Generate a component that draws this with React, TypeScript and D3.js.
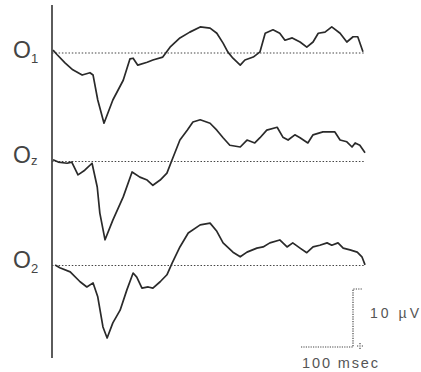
import React, { useRef, useEffect } from "react";
import * as d3 from "d3";

// channel labels
const channels = ["O1", "Oz", "O2"];
const subscripts = ["1", "z", "2"];

// time (ms) and amplitude (µV, up = positive)
const o1Time = [2, 10, 25, 40, 58, 73, 79, 88, 100, 117, 137, 150, 156, 165, 183, 194, 213, 227, 246, 265, 285, 304, 317, 329, 338, 348, 362, 371, 387, 400, 410, 425, 438, 448, 462, 477, 490, 502, 512, 525, 538, 554, 567, 579, 588, 598];
const o1Amp = [0.5, -0.3, -1.7, -2.9, -3.8, -3.4, -3.8, -8.1, -12.1, -8.1, -4.7, -1.0, -0.9, -2.1, -1.6, -1.2, -0.7, 1.0, 2.6, 3.6, 4.5, 4.3, 3.4, 1.7, 0.2, -0.9, -2.1, -1.2, -0.7, 0.2, 3.4, 4.0, 3.4, 2.2, 2.6, 1.9, 1.0, 1.9, 3.4, 3.6, 4.5, 3.4, 1.9, 2.8, 2.8, 0.2];

const ozTime = [2, 12, 29, 38, 50, 63, 77, 87, 92, 102, 117, 137, 154, 169, 183, 194, 208, 221, 231, 246, 260, 271, 285, 304, 317, 329, 342, 362, 375, 390, 400, 413, 433, 444, 454, 467, 477, 492, 502, 521, 544, 554, 567, 577, 583, 592, 602];
const ozAmp = [0.3, -0.1, -0.3, -0.1, -2.3, -1.5, -0.3, -4.4, -8.9, -13.5, -10.1, -6.1, -1.8, -2.7, -3.2, -4.1, -3.2, -2.0, 0.3, 3.7, 5.4, 6.8, 7.2, 6.6, 5.4, 4.1, 2.8, 2.5, 3.7, 3.2, 4.1, 5.4, 5.9, 4.2, 3.7, 4.6, 4.1, 3.2, 4.6, 5.1, 5.1, 3.7, 3.4, 2.5, 3.2, 2.8, 1.5];

const o2Time = [6, 15, 35, 54, 67, 79, 88, 98, 106, 117, 131, 144, 156, 163, 173, 185, 194, 208, 221, 231, 246, 262, 285, 304, 317, 329, 348, 362, 375, 394, 406, 419, 438, 452, 463, 477, 490, 502, 515, 529, 538, 550, 560, 573, 587, 596, 602];
const o2Amp = [0.1, -0.4, -1.1, -2.8, -3.7, -3.0, -5.4, -10.6, -12.5, -9.9, -7.7, -4.2, -1.3, -2.0, -3.9, -3.7, -3.9, -2.8, -1.6, 0.4, 3.2, 5.6, 7.0, 7.3, 5.9, 3.9, 2.3, 1.5, 2.3, 3.0, 3.2, 3.9, 4.4, 3.2, 3.9, 3.0, 2.2, 3.2, 3.5, 3.9, 3.5, 3.9, 3.0, 2.7, 2.3, 1.5, 0.1];

const times = [o1Time, ozTime, o2Time];
const amps = [o1Amp, ozAmp, o2Amp];

// calibration bar
const scaleMs = 100;
const scaleUV = 10;

const W = 421;
const H = 372;

const App = () => {
  const svgRef = useRef<SVGSVGElement>(null);

  useEffect(() => {
    const svg = d3.select(svgRef.current);
    svg.selectAll("*").remove();

    const x = d3.scaleLinear().domain([0, 600]).range([52, 364]);
    const pxPerUV = 5.8;
    const baselines = [53, 161.5, 265.5];

    // vertical axis line
    svg
      .append("line")
      .attr("x1", 52)
      .attr("x2", 52)
      .attr("y1", 5)
      .attr("y2", 358)
      .attr("stroke", "#333")
      .attr("stroke-width", 1.6);

    channels.forEach((ch, i) => {
      const base = baselines[i];
      const y = d3
        .scaleLinear()
        .domain([-10, 10])
        .range([base + 10 * pxPerUV, base - 10 * pxPerUV]);

      // dotted zero line
      svg
        .append("line")
        .attr("x1", x(0))
        .attr("x2", x(602))
        .attr("y1", y(0))
        .attr("y2", y(0))
        .attr("stroke", "#444")
        .attr("stroke-width", 1.2)
        .attr("stroke-dasharray", "1.5,1.8");

      const pts = times[i].map((t, k) => [t, amps[i][k]] as [number, number]);
      const line = d3
        .line<[number, number]>()
        .x((d) => x(d[0]))
        .y((d) => y(d[1]));

      svg
        .append("path")
        .datum(pts)
        .attr("d", line)
        .attr("fill", "none")
        .attr("stroke", "#2a2a2a")
        .attr("stroke-width", 1.7)
        .attr("stroke-linejoin", "round");

      // label
      const lab = svg
        .append("text")
        .attr("x", 13)
        .attr("y", base + (i === 1 ? 5 : 6) - (i === 0 ? 1 : 4))
        .attr("font-family", "Liberation Sans, Arial, sans-serif")
        .attr("fill", "#444");
      lab.append("tspan").attr("font-size", 23).text("O");
      lab
        .append("tspan")
        .attr("font-size", 13)
        .attr("dy", i === 1 ? 2 : 5)
        .text(subscripts[i]);
    });

    // calibration bar
    const cornerX = 353;
    const cornerY = 347;
    const barLen = x(scaleMs) - x(0);
    const barH = scaleUV * pxPerUV;
    const cal = svg
      .append("g")
      .attr("stroke", "#444")
      .attr("stroke-width", 1.2)
      .attr("stroke-dasharray", "1.2,1.2")
      .attr("fill", "none");
    cal
      .append("path")
      .attr(
        "d",
        `M${cornerX - barLen},${cornerY}H${cornerX}V${cornerY - barH}H${cornerX + 9}`
      );
    cal
      .append("path")
      .attr("stroke-dasharray", null)
      .attr("d", `M${cornerX + 4},${cornerY - 1}h6M${cornerX + 7},${cornerY - 4}v6`);

    svg
      .append("text")
      .attr("x", 370)
      .attr("y", 318)
      .attr("font-family", "Liberation Sans, Arial, sans-serif")
      .attr("font-size", 14)
      .attr("fill", "#555")
      .attr("textLength", 49)
      .attr("lengthAdjust", "spacing")
      .text(`${scaleUV} µV`);

    svg
      .append("text")
      .attr("x", 302)
      .attr("y", 368)
      .attr("font-family", "Liberation Sans, Arial, sans-serif")
      .attr("font-size", 14.5)
      .attr("fill", "#555")
      .attr("textLength", 76)
      .attr("lengthAdjust", "spacing")
      .text(`${scaleMs} msec`);
  }, []);

  return (
    <svg
      ref={svgRef}
      width={W}
      height={H}
      style={{ position: "absolute", left: 0, top: 0, background: "#fff" }}
    ></svg>
  );
};

export default App;
